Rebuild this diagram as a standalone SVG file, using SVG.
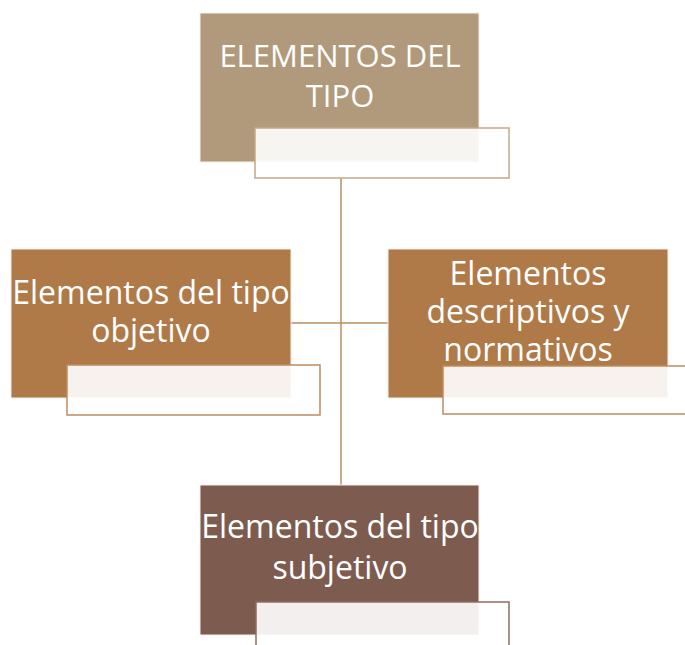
<svg xmlns="http://www.w3.org/2000/svg" width="685" height="645" viewBox="0 0 685 645">
<style>
.t{font-family:"Open Sans","Liberation Sans",sans-serif;fill:#ffffff;text-anchor:middle;font-size:32px}
.cap{font-size:31px}
.box{stroke:#f4efe9;stroke-width:1}
.inner{fill:#ffffff;fill-opacity:0.9;stroke-width:1.5}
.conn{stroke:#b98e62;stroke-width:1.5;fill:none}
</style>
<rect width="685" height="645" fill="#ffffff"/>
<g id="connectors">
<line class="conn" x1="341" y1="178" x2="341" y2="486"/>
<line class="conn" x1="291" y1="323" x2="388" y2="323"/>
</g>
<g id="top">
<rect class="box" x="200" y="13" width="279" height="149" fill="#b09a7b"/>
<text class="t cap" x="340" y="67">ELEMENTOS DEL</text>
<text class="t cap" x="340" y="107">TIPO</text>
<rect class="inner" x="255" y="128" width="254" height="50" stroke="#c4a988"/>
</g>
<g id="left">
<rect class="box" x="11" y="249" width="280" height="149" fill="#b07a48"/>
<text class="t" x="151" y="304">Elementos del tipo</text>
<text class="t" x="151" y="342">objetivo</text>
<rect class="inner" x="67" y="365" width="253" height="50" stroke="#be8d60"/>
</g>
<g id="right">
<rect class="box" x="388" y="249" width="280" height="149" fill="#b07a48"/>
<text class="t" x="528" y="285">Elementos</text>
<text class="t" x="528" y="323">descriptivos y</text>
<text class="t" x="528" y="361">normativos</text>
<rect class="inner" x="443" y="366" width="250" height="48" stroke="#be8d60"/>
</g>
<g id="bottom">
<rect class="box" x="200" y="485" width="279" height="150" fill="#7d5c4f"/>
<text class="t" x="340" y="538">Elementos del tipo</text>
<text class="t" x="340" y="579">subjetivo</text>
<rect class="inner" x="256" y="602" width="253" height="50" stroke="#8e6d61"/>
</g>
</svg>
